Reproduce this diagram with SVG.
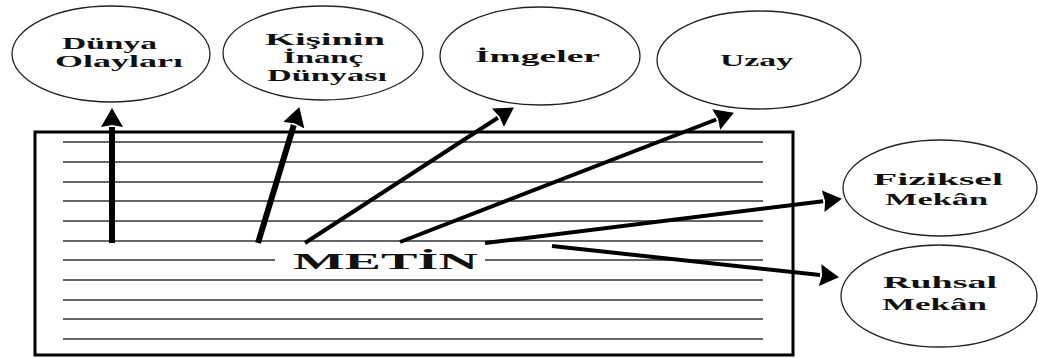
<svg xmlns="http://www.w3.org/2000/svg" width="1038" height="358" viewBox="0 0 1038 358">
<style>
.node ellipse{fill:none;stroke:#222;stroke-width:1.3}
.lbl{font-family:"Liberation Serif","Times New Roman",serif;font-weight:bold;font-size:16px;fill:#111}
.main{font-family:"Liberation Serif","Times New Roman",serif;font-weight:bold;font-size:24px;fill:#111}
.rule{stroke:#333;stroke-width:1.5}
.arr{stroke:#000;fill:none;marker-end:url(#ah)}
</style>
<defs>
<marker id="ah" markerUnits="userSpaceOnUse" markerWidth="22" markerHeight="24" refX="0" refY="11" orient="auto" viewBox="0 0 22 22">
<path d="M0,0 L19,11 L0,22 L2,11 z" fill="#000"/>
</marker>
</defs>
<rect width="1038" height="358" fill="#fff"/>
<g id="metin-box">
<rect x="35" y="132" width="758" height="223" fill="none" stroke="#000" stroke-width="3"/>
<g class="rule">
<line x1="63" y1="142" x2="763" y2="142"/>
<line x1="63" y1="162" x2="763" y2="162"/>
<line x1="63" y1="182" x2="763" y2="182"/>
<line x1="63" y1="201" x2="763" y2="201"/>
<line x1="63" y1="221" x2="763" y2="221"/>
<line x1="63" y1="241" x2="763" y2="241"/>
<line x1="63" y1="260" x2="275" y2="260"/>
<line x1="485" y1="260" x2="763" y2="260"/>
<line x1="63" y1="280" x2="763" y2="280"/>
<line x1="63" y1="300" x2="763" y2="300"/>
<line x1="63" y1="319" x2="763" y2="319"/>
<line x1="63" y1="339" x2="763" y2="339"/>
</g>
<text class="main" x="293" y="269" textLength="185" lengthAdjust="spacingAndGlyphs">METİN</text>
</g>
<g id="dunya-olaylari" class="node">
<ellipse cx="111" cy="54" rx="99" ry="48"/>
<text class="lbl" x="62" y="49" textLength="95" lengthAdjust="spacingAndGlyphs">Dünya</text>
<text class="lbl" x="55" y="67" textLength="128" lengthAdjust="spacingAndGlyphs">Olayları</text>
</g>
<g id="kisinin-inanc" class="node">
<ellipse cx="323" cy="53" rx="100" ry="47"/>
<text class="lbl" x="265" y="45" textLength="120" lengthAdjust="spacingAndGlyphs">Kişinin</text>
<text class="lbl" x="283" y="63" textLength="80" lengthAdjust="spacingAndGlyphs">İnanç</text>
<text class="lbl" x="267" y="81" textLength="120" lengthAdjust="spacingAndGlyphs">Dünyası</text>
</g>
<g id="imgeler" class="node">
<ellipse cx="540" cy="56" rx="100" ry="49"/>
<text class="lbl" x="475" y="62" textLength="125" lengthAdjust="spacingAndGlyphs">İmgeler</text>
</g>
<g id="uzay" class="node">
<ellipse cx="759" cy="60" rx="102" ry="49"/>
<text class="lbl" x="720" y="66" textLength="73" lengthAdjust="spacingAndGlyphs">Uzay</text>
</g>
<g id="fiziksel-mekan" class="node">
<ellipse cx="940" cy="188" rx="97" ry="48"/>
<text class="lbl" x="873" y="185" textLength="130" lengthAdjust="spacingAndGlyphs">Fiziksel</text>
<text class="lbl" x="885" y="205" textLength="103" lengthAdjust="spacingAndGlyphs">Mekân</text>
</g>
<g id="ruhsal-mekan" class="node">
<ellipse cx="939" cy="296" rx="98" ry="51"/>
<text class="lbl" x="883" y="288" textLength="114" lengthAdjust="spacingAndGlyphs">Ruhsal</text>
<text class="lbl" x="882" y="310" textLength="105" lengthAdjust="spacingAndGlyphs">Mekân</text>
</g>
<g id="connectors">
<line class="arr" x1="112" y1="243" x2="112" y2="127" stroke-width="6"/>
<line class="arr" x1="258" y1="243" x2="293.8" y2="125.2" stroke-width="6"/>
<line class="arr" x1="305" y1="243" x2="497.9" y2="117.8" stroke-width="4"/>
<line class="arr" x1="400" y1="242" x2="716.2" y2="119.5" stroke-width="4"/>
<line class="arr" x1="485" y1="243" x2="823.1" y2="201.2" stroke-width="4"/>
<line class="arr" x1="552" y1="246" x2="820.1" y2="275.1" stroke-width="4"/>
</g>
</svg>
